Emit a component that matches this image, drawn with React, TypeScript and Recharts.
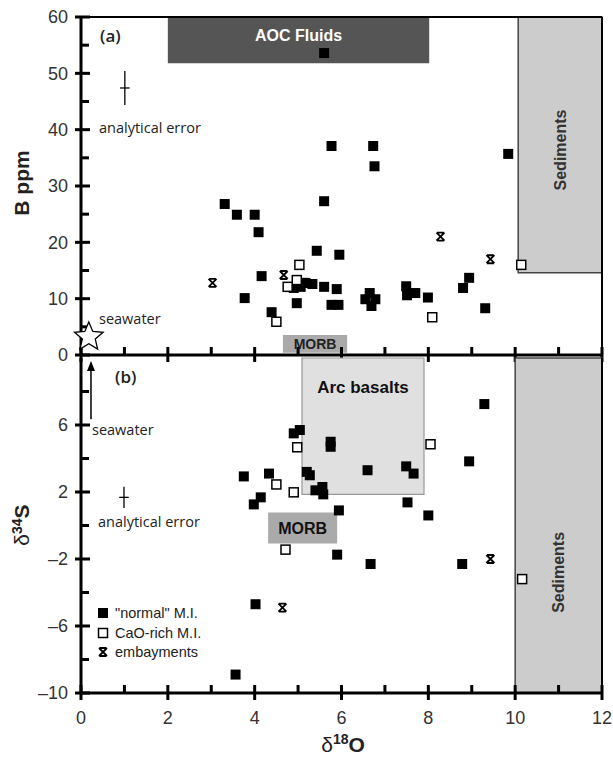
import React from "react";
import {
  ScatterChart,
  Scatter,
  XAxis,
  YAxis,
  ReferenceArea,
  ReferenceLine,
  ErrorBar,
} from "recharts";

// d18O axis
const xDomain = [0, 12];
const xTicks = [0, 1, 2, 3, 4, 5, 6, 7, 8, 9, 10, 11, 12];
const xLabels = [0, 2, 4, 6, 8, 10, 12];
// panel (a) B ppm
const bDomain = [0, 60];
const bTicks = [0, 5, 10, 15, 20, 25, 30, 35, 40, 45, 50, 55, 60];
const bLabels = [0, 10, 20, 30, 40, 50, 60];
// panel (b) d34S
const sDomain = [-10, 10];
const sTicks = [-10, -8, -6, -4, -2, 0, 2, 4, 6, 8];
const sLabels = [-10, -6, -2, 2, 6];

// panel (a): [d18O, B ppm]
const aNormal = [
  [5.6, 53.6], [5.77, 37.1], [6.73, 37.1], [6.76, 33.5], [9.84, 35.7],
  [5.6, 27.3], [5.43, 18.5], [5.95, 17.8], [5.13, 12.8], [5.33, 12.6],
  [5.6, 12.1], [5.89, 11.7], [5.77, 8.9], [5.93, 8.9], [6.65, 11.0],
  [6.55, 9.9], [6.78, 9.9], [6.69, 8.7], [7.49, 12.2], [7.51, 10.6],
  [7.7, 11.0], [7.99, 10.2], [8.8, 11.9], [8.94, 13.7], [9.31, 8.3],
  [3.31, 26.8], [3.59, 24.9], [4.0, 24.9], [4.09, 21.8], [4.16, 14.0],
  [3.77, 10.1], [4.39, 7.6], [4.9, 11.9], [5.06, 12.1], [5.17, 12.8],
  [4.97, 9.2],
];
const aCaO = [[4.5, 5.9], [5.03, 16], [4.97, 13.3], [4.76, 12.1], [8.09, 6.7], [10.14, 16]];
const aEmb = [[3.03, 12.8], [4.67, 14.2], [8.28, 21], [9.43, 17]];
const aSeawater = [[0.18, 3.2]];
const aError = [{ x: 1.01, y: 47.4, ex: 0.11, ey: 3 }];

// panel (b): [d18O, d34S]
const sNormal = [
  [3.75, 2.93], [4.33, 3.1], [4.14, 1.68], [3.98, 1.26], [4.9, 5.5],
  [5.04, 5.7], [5.2, 3.2], [9.29, 7.25], [5.75, 5.0], [5.75, 4.7],
  [8.94, 3.83], [5.27, 3.0], [6.6, 3.3], [7.49, 3.53], [7.66, 3.1],
  [5.4, 2.1], [5.56, 2.3], [5.58, 1.86], [5.94, 0.9], [7.52, 1.38],
  [8.0, 0.6], [5.9, -1.74], [6.67, -2.3], [8.78, -2.3], [4.02, -4.7],
  [3.56, -8.9],
];
const sCaO = [[4.5, 2.45], [4.9, 1.98], [4.98, 4.67], [4.71, -1.44], [8.05, 4.85], [10.16, -3.2]];
const sEmb = [[9.43, -2.0], [4.64, -4.9]];
const sError = [{ x: 0.99, y: 1.68, ex: 0.11, ey: 0.63 }];
const sSeawaterArrow = [{ x: 0.23, y: 6.35 }, { x: 0.23, y: 9.82 }];

const pts = (a: number[][]) => a.map(([x, y]) => ({ x, y }));
// tick positions fed through the chart's own scales
const xTickPts = (y: number) => xTicks.map((x) => ({ x, y, major: xLabels.includes(x) }));
const yTickPts = (ticks: number[], labels: number[]) =>
  ticks.map((y) => ({ x: xDomain[0], y, major: labels.includes(y) }));

const SANS = "'Liberation Sans', Arial, sans-serif";
const HUMAN = "'Open Sans', 'DejaVu Sans', sans-serif";

const FilledSq = (p: any) => (
  <rect x={p.cx - 5} y={p.cy - 5} width={10} height={10} fill="#000" />
);
const OpenSq = (p: any) => (
  <rect x={p.cx - 4.5} y={p.cy - 4.5} width={9} height={9} fill="#fff" stroke="#000" strokeWidth={1.5} />
);
const EmbMark = (p: any) => {
  const { cx, cy } = p;
  return (
    <path
      d={`M${cx - 4},${cy - 4}L${cx + 4},${cy + 4}M${cx + 4},${cy - 4}L${cx - 4},${cy + 4}M${cx - 3.5},${cy - 4}H${cx + 3.5}M${cx - 3.5},${cy + 4}H${cx + 3.5}`}
      stroke="#000"
      strokeWidth={1.8}
      fill="none"
    />
  );
};
const Star = (p: any) => {
  const { cx, cy } = p;
  const r1 = 15, r2 = 6.8;
  const d = Array.from({ length: 10 }, (_, i) => {
    const r = i % 2 ? r2 : r1;
    const a = -Math.PI / 2 + (i * Math.PI) / 5;
    return `${cx + r * Math.cos(a)},${cy + r * Math.sin(a)}`;
  }).join(" ");
  return <polygon points={d} fill="#fff" stroke="#000" strokeWidth={1.3} />;
};
const Nothing = () => <g />;

const XTickMark = (p: any) => {
  const major = p.payload && p.payload.major;
  return <rect x={p.cx - 1.5} y={p.cy - 8} width={3} height={major ? 15 : 8} fill="#000" />;
};
const YTickMark = (p: any) => {
  const major = p.payload && p.payload.major;
  return <rect x={major ? p.cx - 6 : p.cx} y={p.cy - 1.5} width={major ? 15 : 8} height={3} fill="#000" />;
};

// axis tick labels
const xTickLabel = (p: any) => {
  const v = Number(p.payload.value);
  if (!xLabels.includes(v)) return <g />;
  return (
    <text x={p.x} y={p.y + 31} textAnchor="middle" fontSize={18} fontFamily={SANS} fill="#333">
      {v}
    </text>
  );
};

const yTickLabel = (labelSet: number[]) => (p: any) => {
  const v = Number(p.payload.value);
  if (!labelSet.includes(v)) return <g />;
  return (
    <text x={p.x - 13} y={p.y} dy="0.35em" textAnchor="end" fontSize={18} fontFamily={SANS} fill="#333">
      {v < 0 ? `\u2013${-v}` : v}
    </text>
  );
};

const boxLabel = (text: string, opts: { size: number; color: string; dy?: number; top?: number }) => (p: any) => {
  const { x, y, width, height } = p.viewBox;
  const cy = opts.top !== undefined ? y + opts.top : y + height / 2 + (opts.dy || 0);
  return (
    <text x={x + width / 2} y={cy} dy="0.35em" textAnchor="middle" fontSize={opts.size} fontWeight="bold" fontFamily={SANS} fill={opts.color}>
      {text}
    </text>
  );
};

const vLabel = (text: string, frac: number) => (p: any) => {
  const { x, y, width, height } = p.viewBox;
  const cx = x + width / 2;
  const cy = y + height * frac;
  return (
    <text x={cx} y={cy} dy="0.35em" textAnchor="middle" fontSize={16} fontWeight="bold" fontFamily={SANS} fill="#333" transform={`rotate(-90 ${cx} ${cy})`}>
      {text}
    </text>
  );
};

const frameLine = (w: number) => (p: any) => (
  <path d={`M${p.x1},${p.y1}L${p.x2},${p.y2}`} stroke="#000" strokeWidth={w} fill="none" />
);

const Arrow = (p: any) => {
  const { x1, y1, y2 } = p;
  const top = Math.min(y1, y2), bot = Math.max(y1, y2);
  return (
    <g>
      <path d={`M${x1},${top + 6}V${bot}`} stroke="#000" strokeWidth={1.5} fill="none" />
      <polygon points={`${x1},${top} ${x1 - 4},${top + 10} ${x1 + 4},${top + 10}`} fill="#000" />
    </g>
  );
};

export default function App() {
  return (
    <div style={{ position: "absolute", left: 0, top: 0, width: 613, height: 763, background: "#fff" }}>
      <div style={{ position: "absolute", left: 0, top: 0 }}>
        <ScatterChart width={613} height={370} margin={{ top: 17, right: 11, bottom: 15, left: 0 }}>
          <XAxis type="number" dataKey="x" domain={xDomain} ticks={xTicks} interval={0} height={0}
            axisLine={false} tickLine={false} tick={false} />
          <YAxis type="number" dataKey="y" domain={bDomain} ticks={bTicks} interval={0} width={81}
            axisLine={false} tickLine={false} tickSize={0} tickMargin={0} tick={yTickLabel(bLabels)} />
          <ReferenceArea x1={2} x2={8.02} y1={51.8} y2={60} fill="#555" fillOpacity={1} stroke="none"
            label={boxLabel("AOC Fluids", { size: 16, color: "#fff", dy: -5 })} />
          <ReferenceArea x1={10.07} x2={12} y1={14.6} y2={60} fill="#cccccc" fillOpacity={1} stroke="#444" strokeWidth={1.5}
            label={vLabel("Sediments", 0.52)} />
          <ReferenceArea x1={4.65} x2={6.13} y1={0.4} y2={3.55} fill="#aaaaaa" fillOpacity={1} stroke="none"
            label={boxLabel("MORB", { size: 14, color: "#222" })} />
          <ReferenceLine y={60} shape={frameLine(2)} />
          <ReferenceLine x={12} shape={frameLine(2)} />
          <ReferenceLine x={0} shape={frameLine(3)} />
          <ReferenceLine y={0} shape={frameLine(3)} />
          <Scatter data={xTickPts(bDomain[0])} shape={XTickMark} isAnimationActive={false} />
          <Scatter data={yTickPts(bTicks, bLabels)} shape={YTickMark} isAnimationActive={false} />
          <Scatter data={pts(aSeawater)} shape={Star} isAnimationActive={false} />
          <Scatter data={aError} shape={Nothing} isAnimationActive={false}>
            <ErrorBar dataKey="ey" direction="y" width={0} stroke="#000" strokeWidth={1.3} />
            <ErrorBar dataKey="ex" direction="x" width={0} stroke="#000" strokeWidth={1.3} />
          </Scatter>
          <Scatter data={pts(aNormal)} shape={FilledSq} isAnimationActive={false} />
          <Scatter data={pts(aCaO)} shape={OpenSq} isAnimationActive={false} />
          <Scatter data={pts(aEmb)} shape={EmbMark} isAnimationActive={false} />
        </ScatterChart>
      </div>
      <div style={{ position: "absolute", left: 0, top: 340 }}>
        <ScatterChart width={613} height={423} margin={{ top: 18, right: 11, bottom: 0, left: 0 }}>
          <XAxis type="number" dataKey="x" domain={xDomain} ticks={xTicks} interval={0} height={70}
            axisLine={false} tickLine={false} tickSize={0} tickMargin={0} tick={xTickLabel} />
          <YAxis type="number" dataKey="y" domain={sDomain} ticks={sTicks} interval={0} width={81}
            axisLine={false} tickLine={false} tickSize={0} tickMargin={0} tick={yTickLabel(sLabels)} />
          <ReferenceArea x1={5.09} x2={7.9} y1={1.86} y2={10} fill="#e0e0e0" fillOpacity={1} stroke="#999" strokeWidth={1.2}
            label={boxLabel("Arc basalts", { size: 17, color: "#111", top: 29 })} />
          <ReferenceArea x1={4.31} x2={5.9} y1={-1.08} y2={0.78} fill="#aaaaaa" fillOpacity={1} stroke="none"
            label={boxLabel("MORB", { size: 16, color: "#111" })} />
          <ReferenceArea x1={10} x2={12} y1={-10} y2={10} fill="#cccccc" fillOpacity={1} stroke="#444" strokeWidth={1.5}
            label={vLabel("Sediments", 0.64)} />
          <ReferenceLine x={12} shape={frameLine(2)} />
          <ReferenceLine x={0} shape={frameLine(3)} />
          <ReferenceLine y={-10} shape={frameLine(3)} />
          <ReferenceLine segment={sSeawaterArrow} shape={Arrow} />
          <Scatter data={xTickPts(sDomain[0])} shape={XTickMark} isAnimationActive={false} />
          <Scatter data={yTickPts(sTicks, sLabels)} shape={YTickMark} isAnimationActive={false} />
          <Scatter data={sError} shape={Nothing} isAnimationActive={false}>
            <ErrorBar dataKey="ey" direction="y" width={0} stroke="#000" strokeWidth={1.3} />
            <ErrorBar dataKey="ex" direction="x" width={0} stroke="#000" strokeWidth={1.3} />
          </Scatter>
          <Scatter data={pts(sNormal)} shape={FilledSq} isAnimationActive={false} />
          <Scatter data={pts(sCaO)} shape={OpenSq} isAnimationActive={false} />
          <Scatter data={pts(sEmb)} shape={EmbMark} isAnimationActive={false} />
        </ScatterChart>
      </div>
      <svg width={613} height={763} style={{ position: "absolute", left: 0, top: 0, pointerEvents: "none" }}>
        <g fontFamily={HUMAN} fill="#222">
          <text x={100} y={42} fontSize={17} fontWeight={600}>(a)</text>
          <text x={99} y={133} fontSize={14.5}>analytical error</text>
          <text x={99} y={324} fontSize={14.5}>seawater</text>
          <text x={115} y={383} fontSize={17} fontWeight={600}>(b)</text>
          <text x={92} y={435} fontSize={14.5}>seawater</text>
          <text x={98} y={527} fontSize={14.5}>analytical error</text>
        </g>
        <text transform="rotate(-90 22 183)" x={22} y={183} dy="0.35em" textAnchor="middle" fontSize={21} fontWeight="bold" fontFamily={SANS} fill="#222">
          B ppm
        </text>
        <text transform="rotate(-90 23 525)" x={23} y={525} dy="0.35em" textAnchor="middle" fontFamily={SANS} fill="#222">
          <tspan fontSize={21}>δ</tspan>
          <tspan fontSize={14} fontWeight="bold" dy="-7">34</tspan>
          <tspan fontSize={21} fontWeight="bold" dy="7">S</tspan>
        </text>
        <text x={343} y={752} textAnchor="middle" fontFamily={SANS} fill="#222">
          <tspan fontSize={21}>δ</tspan>
          <tspan fontSize={14} fontWeight="bold" dy="-8">18</tspan>
          <tspan fontSize={21} fontWeight="bold" dy="8">O</tspan>
        </text>
        <g fontFamily={SANS} fontSize={14.5} fill="#222">
          <FilledSq cx={103} cy={613} />
          <text x={115} y={618}>"normal" M.I.</text>
          <OpenSq cx={103} cy={633} />
          <text x={115} y={638}>CaO-rich M.I.</text>
          <EmbMark cx={103} cy={652} />
          <text x={115} y={657}>embayments</text>
        </g>
      </svg>
    </div>
  );
}
